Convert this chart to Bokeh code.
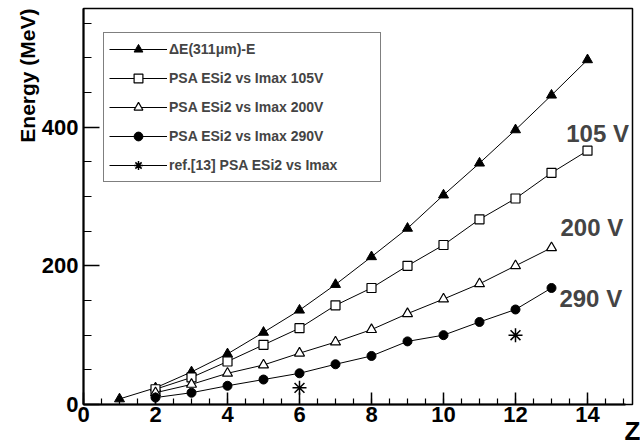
import numpy as np
from bokeh.plotting import figure
from bokeh.models import Range1d, FixedTicker, Label, Legend, LegendItem, Title
from bokeh.embed import file_html
from bokeh.resources import INLINE

# ---- data ----
z_de = [1, 2, 3, 4, 5, 6, 7, 8, 9, 10, 11, 12, 13, 14]
e_de = [8, 24, 47, 73, 104, 136, 173, 213, 254, 302, 348, 396, 446, 497]

z_105 = [2, 3, 4, 5, 6, 7, 8, 9, 10, 11, 12, 13, 14]
e_105 = [22, 39, 62, 86, 110, 143, 168, 200, 230, 267, 297, 334, 366]

z_200 = [2, 3, 4, 5, 6, 7, 8, 9, 10, 11, 12, 13]
e_200 = [17, 29, 45, 57, 74, 90, 108, 131, 152, 174, 200, 226]

z_290 = [2, 3, 4, 5, 6, 7, 8, 9, 10, 11, 12, 13]
e_290 = [10, 17, 27, 36, 45, 58, 70, 91, 100, 119, 137, 168]

z_ref = [6, 12]
e_ref = [24, 100]

x_major = [0, 2, 4, 6, 8, 10, 12, 14]
x_minor = [i * 0.5 for i in range(0, 31)]
y_major = [0, 200, 400]
y_minor = [i * 50 for i in range(0, 12)]

labels = ["\u0394E(311\u03bcm)-E", "PSA ESi2 vs Imax 105V", "PSA ESi2 vs Imax 200V",
          "PSA ESi2 vs Imax 290V", "ref.[13] PSA ESi2 vs Imax"]

FONT = "Liberation Sans"

p = figure(width=640, height=448, output_backend="svg", toolbar_location=None,
           x_range=Range1d(0, 15.25), y_range=Range1d(0, 571),
           min_border_left=83, min_border_right=8, min_border_top=8, min_border_bottom=44)
p.grid.visible = False
p.outline_line_color = "black"
p.outline_line_width = 1.5
p.background_fill_color = "white"
p.border_fill_color = "white"

for ax, major, minor, tin, mtin in ((p.xaxis[0], x_major, x_minor, 12, 6),
                                    (p.yaxis[0], y_major, y_minor, 16, 8)):
    ax.ticker = FixedTicker(ticks=major, minor_ticks=minor)
    ax.axis_line_width = 2
    ax.axis_line_color = "black"
    ax.major_tick_in = tin
    ax.major_tick_out = 0
    ax.minor_tick_in = mtin
    ax.minor_tick_out = 0
    ax.major_tick_line_width = 1.5
    ax.minor_tick_line_width = 1.2
    ax.major_label_text_font = FONT
    ax.major_label_text_font_style = "bold"
    ax.major_label_text_font_size = "22px"
    ax.major_label_text_color = "black"

p.xaxis.major_label_standoff = 2
p.yaxis.major_label_standoff = 5

# x-axis title "Z" at the right end of the axis
xax = p.xaxis[0]
xax.bounds = (0, 15.06)
xax.axis_label = "Z"
xax.axis_label_text_font = FONT
xax.axis_label_text_font_style = "bold"
xax.axis_label_text_color = "black"
xax.axis_label_text_font_size = "26px"
xax.axis_label_standoff = -9
if "axis_label_align" in xax.properties():
    xax.axis_label_align = "end"

# y-axis title, at the top end of the axis
p.add_layout(Title(text="Energy (MeV)", align="right", standoff=0,
                   text_font=FONT, text_font_style="bold", text_font_size="21px",
                   text_color="black"), "left")

# series
l1 = p.line(z_de, e_de, line_color="black", line_width=1)
m1 = p.scatter(z_de, e_de, marker="triangle", size=10, fill_color="black", line_color="black")

l2 = p.line(z_105, e_105, line_color="black", line_width=1)
m2 = p.scatter(z_105, e_105, marker="square", size=9, fill_color="white", line_color="black", line_width=1.2)

l3 = p.line(z_200, e_200, line_color="black", line_width=1)
m3 = p.scatter(z_200, e_200, marker="triangle", size=10, fill_color="white", line_color="black", line_width=1.2)

l4 = p.line(z_290, e_290, line_color="black", line_width=1)
m4 = p.scatter(z_290, e_290, marker="circle", size=9, fill_color="black", line_color="black")

# single-point line: draws nothing in the plot, but gives the legend entry its line
l5 = p.line(z_ref[:1], e_ref[:1], line_color="black", line_width=1)
m5 = p.scatter(z_ref, e_ref, marker="asterisk", size=14, line_color="black", line_width=1.5)

legend = Legend(items=[
    LegendItem(label=labels[0], renderers=[l1, m1]),
    LegendItem(label=labels[1], renderers=[l2, m2]),
    LegendItem(label=labels[2], renderers=[l3, m3]),
    LegendItem(label=labels[3], renderers=[l4, m4]),
    LegendItem(label=labels[4], renderers=[l5, m5]),
], location=(20, 222), padding=5, spacing=7, glyph_width=58, glyph_height=22,
    label_height=22, label_width=206, label_standoff=2, margin=0,
    label_text_font=FONT, label_text_font_style="bold", label_text_font_size="14px",
    border_line_color="black", border_line_width=1, background_fill_alpha=1.0)
p.add_layout(legend, "center")

for tx, ty, t in ((13.41, 391, "105 V"), (13.25, 255, "200 V"), (13.22, 153, "290 V")):
    p.add_layout(Label(x=tx, y=ty, text=t, text_align="left", text_baseline="alphabetic",
                       text_font=FONT, text_font_style="bold", text_font_size="24px"))

open("out.html", "w").write(file_html(p, INLINE))
